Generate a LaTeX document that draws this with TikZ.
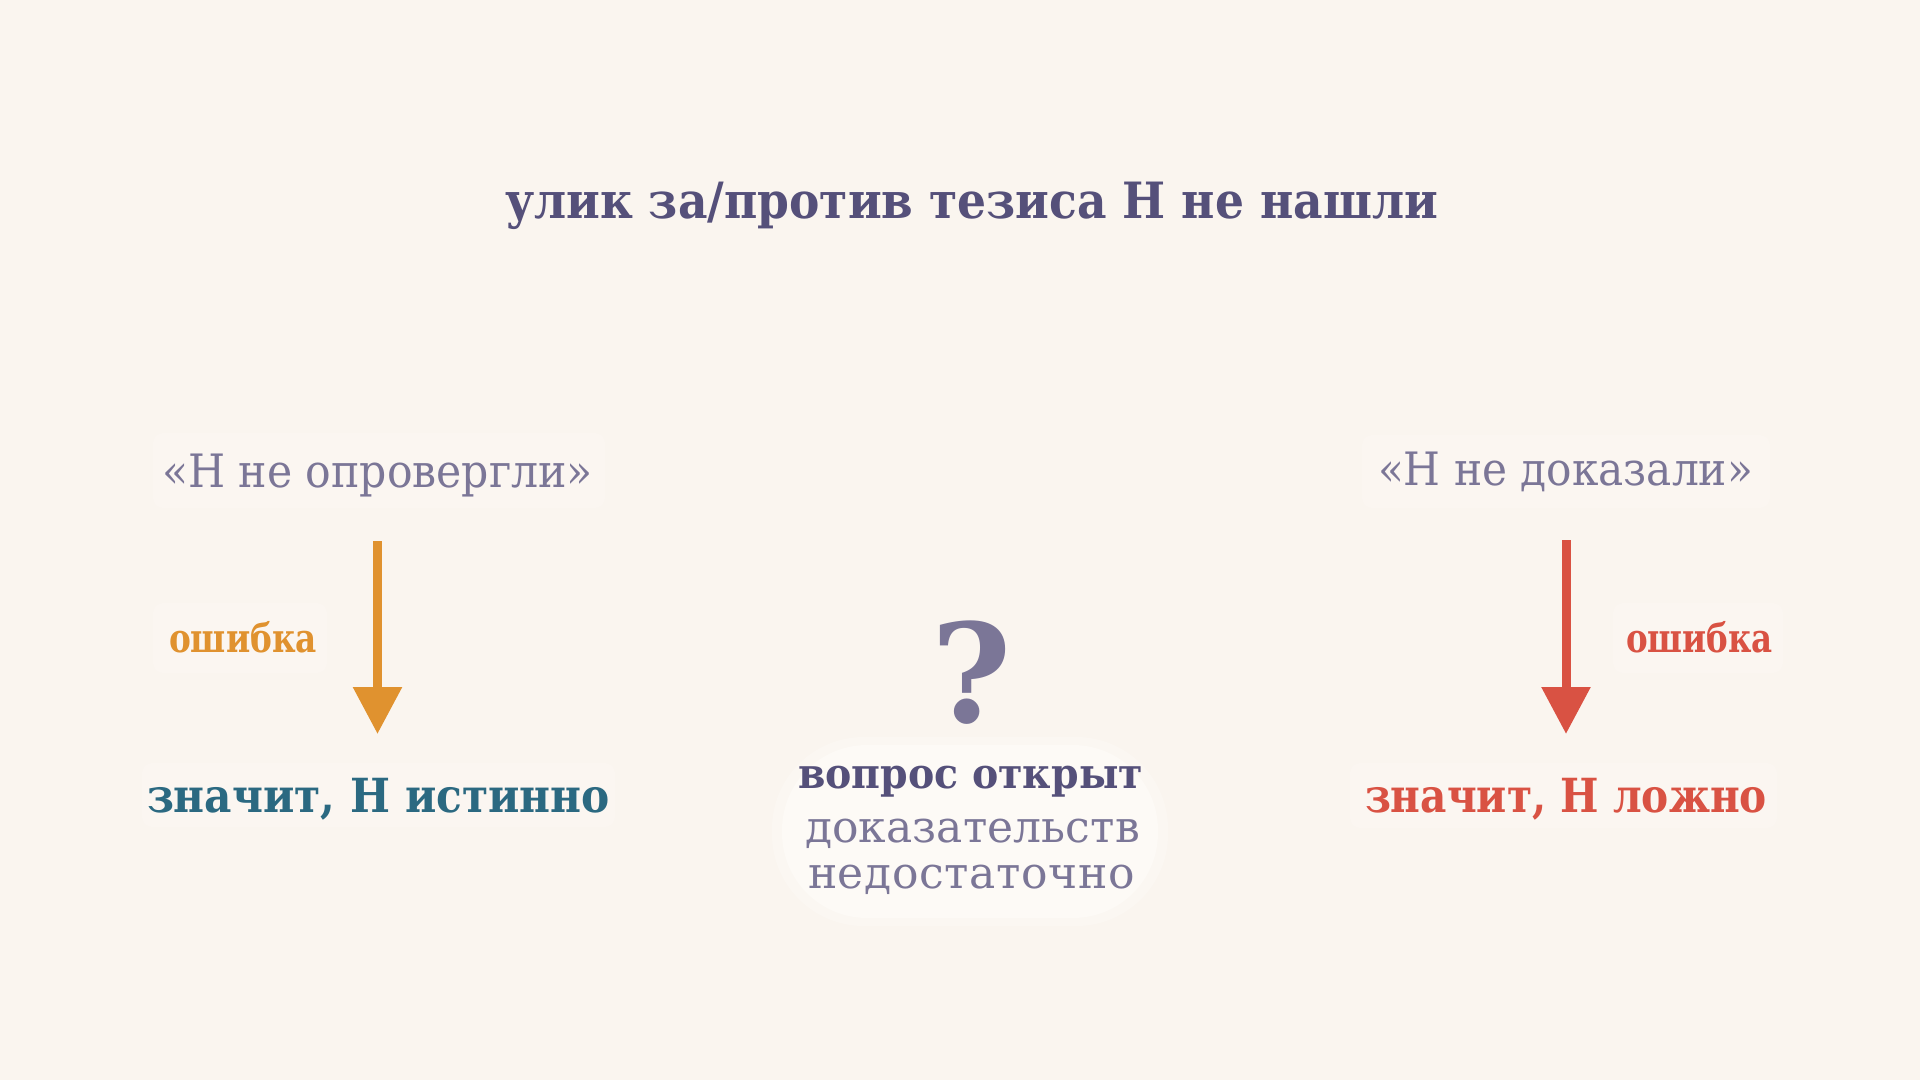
\documentclass[tikz,border=0pt]{standalone}
\usepackage{fontspec}
\setmainfont{DejaVu Serif}
\usetikzlibrary{arrows.meta}
\definecolor{bg}{HTML}{FAF5EF}
\definecolor{panel}{HTML}{FBF6F1}
\definecolor{glow}{HTML}{FDFAF6}
\definecolor{titlec}{HTML}{55507A}
\definecolor{greyc}{HTML}{7B7697}
\definecolor{orangec}{HTML}{E0922F}
\definecolor{tealc}{HTML}{2B6981}
\definecolor{redc}{HTML}{D95243}
\newsavebox\fitbox
\def\sprx#1#2\relax{#1\spry#2\relax}
\def\spry#1{\ifx#1\relax\else\hfil#1\expandafter\spry\fi}
\newcommand\fitto[2]{%
  \sbox\fitbox{#2}%
  \ifdim\wd\fitbox>#1pt\relax
    \pgfmathsetmacro\fitr{#1/\the\wd\fitbox}%
    \scalebox{\fitr}[1]{\usebox\fitbox}%
  \else
    \hbox to #1pt{\sprx#2\relax}%
  \fi}
\tikzset{
  lbl/.style={inner sep=0pt, anchor=base},
  titlefont/.style={font=\fontsize{50}{60}\selectfont\bfseries, text=titlec},
  quotefont/.style={font=\fontsize{46}{56}\selectfont, text=greyc},
  errfont/.style={font=\fontsize{40}{48}\selectfont\bfseries},
  concfont/.style={font=\fontsize{47}{56}\selectfont\bfseries},
  panelbox/.style={fill=panel, rounded corners=10pt},
  bigarrow/.style={line width=9pt, -{Triangle[length=47pt,width=47pt]}},
}
\begin{document}
\begin{tikzpicture}[x=1pt,y=-1pt]
\fill[bg] (0,0) rectangle (1920,1080);
\useasboundingbox (0,0) rectangle (1920,1080);
% faint panels
\fill[panelbox] (153,433) rectangle (605,508);
\fill[panelbox] (1362,435) rectangle (1770,508);
\fill[panelbox] (153,603) rectangle (327,673);
\fill[panelbox] (1613,603) rectangle (1783,673);
\fill[panelbox] (142,763) rectangle (615,827);
\fill[panelbox] (1350,763) rectangle (1777,828);
% central glow
\fill[glow, opacity=0.5, rounded corners=92pt] (772,737) rectangle (1168,926);
\fill[glow, rounded corners=85pt] (782,745) rectangle (1158,918);
% title
\node[lbl, titlefont] (title) at (971.5,218) {\fitto{933}{улик~за/против~тезиса~Н~не~нашли}};
% left column
\node[lbl, quotefont] (lq) at (377.5,487) {\fitto{431}{«Н~не~опровергли»}};
\coordinate (la1) at (377.5,541);
\coordinate (la2) at (377.5,734);
\draw[bigarrow, orangec] (la1) -- (la2);
\node[lbl, errfont, text=orangec] (le) at (243,652) {\fitto{148}{ошибка}};
\node[lbl, concfont, text=tealc] (lc) at (378.5,812) {\fitto{463}{значит,~Н~истинно}};
% right column
\node[lbl, quotefont] (rq) at (1565.5,485) {\fitto{375}{«Н~не~доказали»}};
\coordinate (ra1) at (1566,540);
\coordinate (ra2) at (1566,734);
\draw[bigarrow, redc] (ra1) -- (ra2);
\node[lbl, errfont, text=redc] (re) at (1699.5,652) {\fitto{147}{ошибка}};
\node[lbl, concfont, text=redc] (rc) at (1566,812) {\fitto{402}{значит,~Н~ложно}};
% centre
\node[lbl, font=\fontsize{137}{150}\selectfont\bfseries, text=greyc] (q) at (971.5,722) {?};
\node[lbl, font=\fontsize{42}{50}\selectfont\bfseries, text=titlec] (c1) at (970.5,788) {\fitto{345}{вопрос~открыт}};
\node[lbl, font=\fontsize{44}{52}\selectfont, text=greyc] (c2) at (972.5,842) {\fitto{335}{доказательств}};
\node[lbl, font=\fontsize{44}{52}\selectfont, text=greyc] (c3) at (971.5,888) {\fitto{327}{недостаточно}};
\end{tikzpicture}
\end{document}
